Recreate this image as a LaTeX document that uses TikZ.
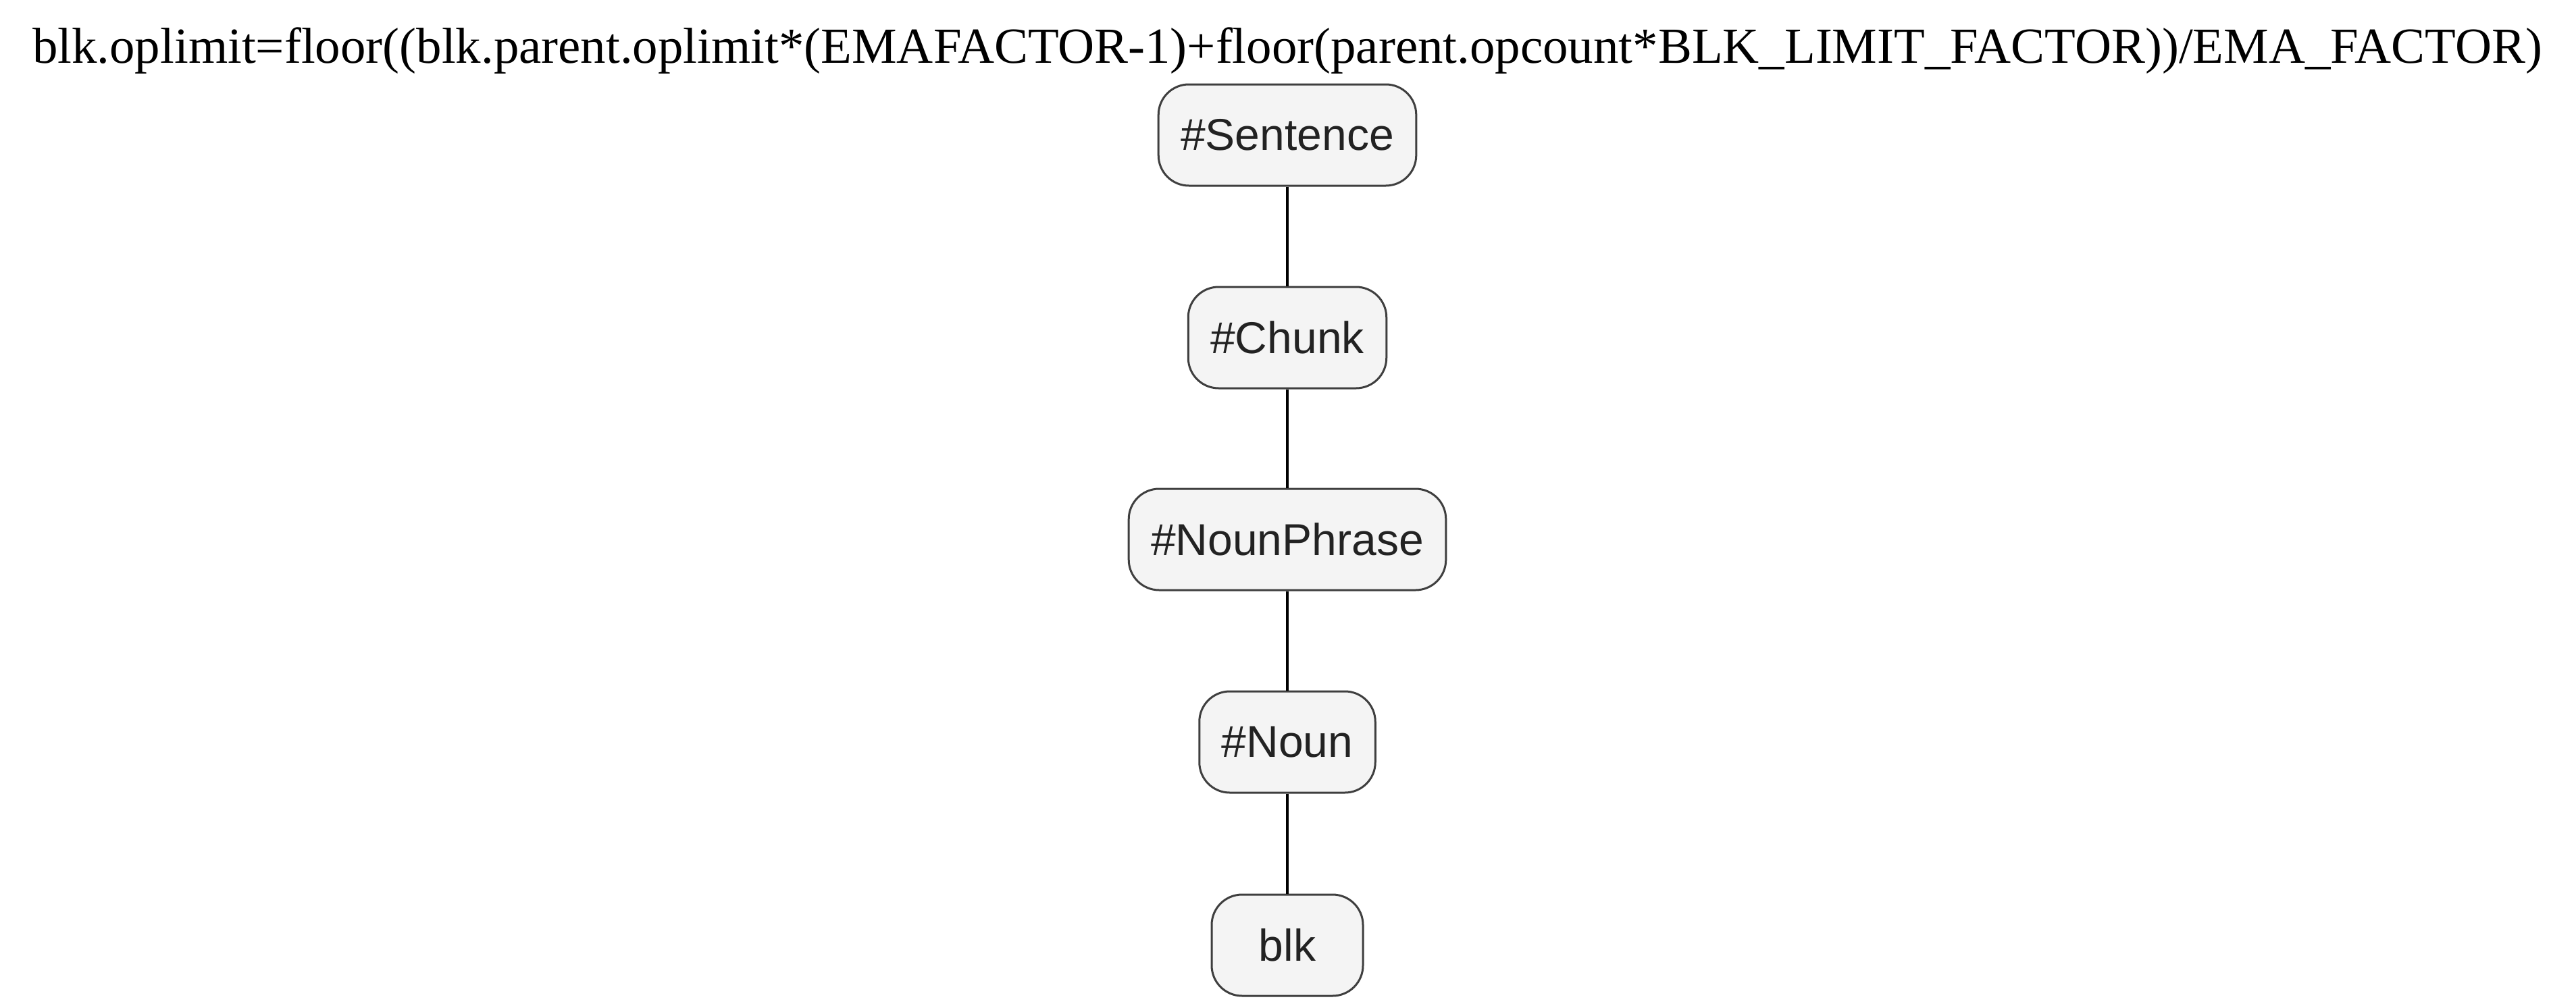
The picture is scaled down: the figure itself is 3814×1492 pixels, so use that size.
\documentclass[tikz,border=0pt]{standalone}
\usepackage{fontspec}
\setmainfont{Liberation Serif}
\newfontfamily\nodefont{Liberation Sans}
\definecolor{nodefill}{HTML}{F4F4F4}
\definecolor{nodeborder}{HTML}{3F3F3F}
\definecolor{nodetext}{HTML}{222222}
\begin{document}
\begin{tikzpicture}[x=1pt,y=-1pt,
  treenode/.style={draw=nodeborder, fill=nodefill, line width=3pt, rounded corners=45pt,
    minimum height=150pt, minimum width=224pt, inner xsep=33pt, text=nodetext,
    font=\nodefont\fontsize{66}{78}\selectfont},
  link/.style={line width=3.5pt, black}]
\useasboundingbox (0,0) rectangle (3814,1492);
\node[anchor=center, inner sep=0pt] (title) at (1906,75)
  {\resizebox{3714pt}{!}{blk.oplimit=floor((blk.parent.oplimit*(EMAFACTOR-1)+floor(parent.opcount*BLK\_LIMIT\_FACTOR))/EMA\_FACTOR)}};
\node[treenode] (sentence) at (1906,200) {\#Sentence};
\node[treenode] (chunk) at (1906,500) {\#Chunk};
\node[treenode] (np) at (1906,799) {\#NounPhrase};
\node[treenode] (noun) at (1906,1099) {\#Noun};
\node[treenode] (blk) at (1906,1400) {blk};
\draw[link] (sentence.south) -- (chunk.north);
\draw[link] (chunk.south) -- (np.north);
\draw[link] (np.south) -- (noun.north);
\draw[link] (noun.south) -- (blk.north);
\end{tikzpicture}
\end{document}
